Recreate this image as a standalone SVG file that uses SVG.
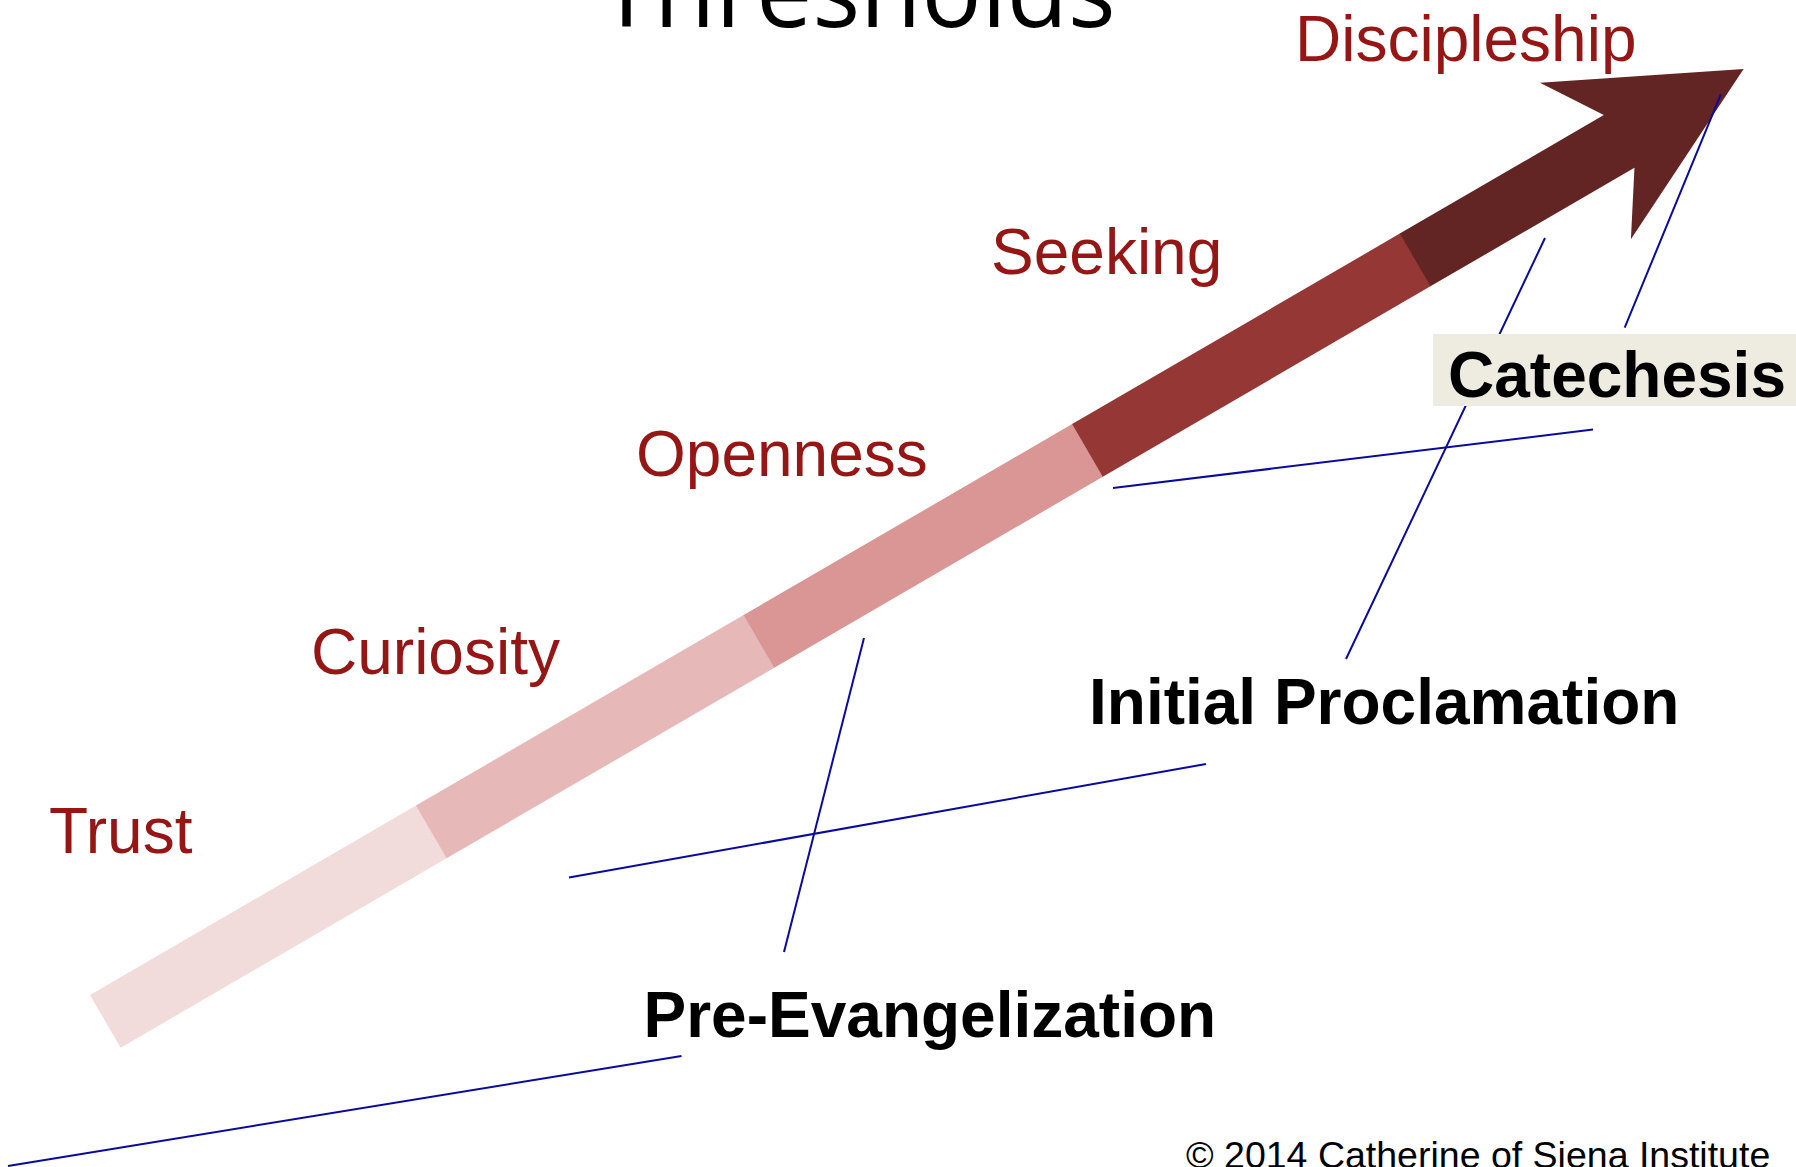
<svg xmlns="http://www.w3.org/2000/svg" width="1796" height="1167" viewBox="0 0 1796 1167">
<style>
.stage{font-family:"Liberation Sans",Arial,sans-serif;font-size:64px;fill:#961616}
.phase{font-family:"Liberation Sans",Arial,sans-serif;font-size:64px;font-weight:bold;fill:#000}
.title{font-family:"Open Sans",sans-serif;font-size:100px;fill:#000}
.copy{font-family:"Liberation Sans",Arial,sans-serif;font-size:37.5px;fill:#000}
.conn line{stroke:#0a0a9c;stroke-width:2;fill:none}
</style>
<rect width="1796" height="1167" fill="#fff"/>
<g id="title"><text class="title" x="599" y="27">Thresholds</text></g>
<g id="arrow" transform="translate(90,995) rotate(-30.17)">
<rect x="0" y="0" width="377.5" height="61" fill="#F2DCDB"/>
<rect x="377" y="0" width="379.5" height="61" fill="#E6B9B8"/>
<rect x="756" y="0" width="380.5" height="61" fill="#D99694"/>
<rect x="1136" y="0" width="379.5" height="61" fill="#953735"/>
<polygon points="1515,0 1751,0 1712,-60 1895,30.5 1712,121 1751,61 1515,61" fill="#632523"/>
</g>
<g id="connectors" class="conn">
<line x1="8" y1="1166" x2="681.5" y2="1056"/>
<line x1="569" y1="877.5" x2="1206" y2="764"/>
<line x1="864" y1="638" x2="784" y2="952"/>
<line x1="1113" y1="488" x2="1593" y2="429.5"/>
<line x1="1346" y1="659" x2="1545" y2="238"/>
<line x1="1720.8" y1="94.3" x2="1624.7" y2="327.7"/>
</g>
<g id="trust"><text class="stage" x="49" y="852.5">Trust</text></g>
<g id="curiosity"><text class="stage" x="311" y="674">Curiosity</text></g>
<g id="openness"><text class="stage" x="636" y="476">Openness</text></g>
<g id="seeking"><text class="stage" x="991" y="274">Seeking</text></g>
<g id="discipleship"><text class="stage" x="1295" y="61">Discipleship</text></g>
<g id="catechesis"><rect x="1433" y="334" width="363" height="72" fill="#EEECE1"/><text class="phase" x="1448" y="396.5">Catechesis</text></g>
<g id="initial-proclamation"><text class="phase" x="1089" y="723.5">Initial Proclamation</text></g>
<g id="pre-evangelization"><text class="phase" x="643.5" y="1036.5">Pre-Evangelization</text></g>
<g id="copyright"><text class="copy" x="1186" y="1168">© 2014 Catherine of Siena Institute</text></g>
</svg>
